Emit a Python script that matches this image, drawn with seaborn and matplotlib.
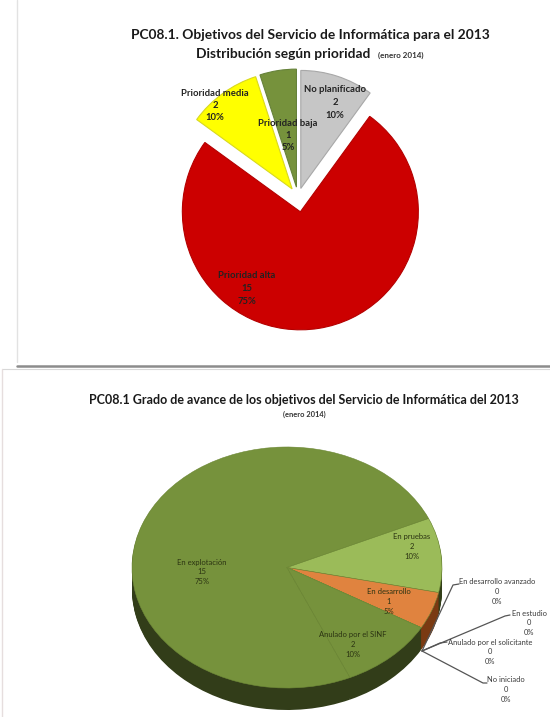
#!/usr/bin/env python
# coding: utf-8

import numpy as np
import matplotlib.pyplot as plt
import seaborn as sns

# Chart 1: priority
prio_names = ['No planificado', 'Prioridad alta', 'Prioridad media', 'Prioridad baja']
prio_values = [2, 15, 2, 1]
prio_pcts = ['10%', '75%', '10%', '5%']
prio_colors = ['#c6c6c6', '#cc0000', '#ffff00', '#76923c']
prio_explode = [9, 15, 10, 10]

# Chart 2: progress
prog_names = ['En explotación', 'En pruebas', 'En desarrollo', 'En desarrollo avanzado',
              'En estudio', 'Anulado por el solicitante', 'No iniciado', 'Anulado por el SINF']
prog_values = [15, 2, 1, 0, 0, 0, 0, 2]
prog_pcts = ['75%', '10%', '5%', '0%', '0%', '0%', '0%', '10%']
prog_colors = ['#76923c', '#9bbb59', '#e0833f', '#4f81bd', '#8064a2', '#4bacc6', '#f79646', '#76923c']

W, H = 550, 717
FONT = ['Lato', 'DejaVu Sans']

sns.set_theme(style='white')
plt.rcParams['font.family'] = FONT

fig = plt.figure(figsize=(W / 100, H / 100), dpi=100, facecolor='white')
ax = fig.add_axes([0, 0, 1, 1])


def py(y):
    return H - y


def label(a, x, y, lines, size=6.6, color='#222222', gap=12.5, weight='normal'):
    for i, line in enumerate(lines):
        a.text(x, py(y + i * gap), line, ha='center', va='center',
               fontsize=size, color=color, fontweight=weight, zorder=10)


# top pie, drawn in pixel space
wedges, _ = ax.pie(prio_values, colors=prio_colors, explode=prio_explode, startangle=90,
                   counterclock=False, radius=118, center=(298, py(197)),
                   wedgeprops=dict(linewidth=0.8, edgecolor='#a8a8a8'))
ax.set_aspect('auto')
ax.set_xlim(0, W)
ax.set_ylim(0, H)
ax.axis('off')
wedges[1].set_edgecolor('#b40000')
wedges[2].set_edgecolor('#d8d820')
wedges[3].set_edgecolor('#66823a')

# page frames
ax.plot([17, 17], [py(0), py(362)], color='#e2e2e2', lw=1)
ax.plot([17, W], [py(366), py(366)], color='#8c8c8c', lw=1.8)
ax.plot([2, W], [py(369), py(369)], color='#d8d8d8', lw=0.8)
ax.plot([2, 2], [py(369), py(717)], color='#e6dede', lw=1)

# titles
ax.text(310, py(35), 'PC08.1. Objetivos del Servicio de Informática para el 2013',
        ha='center', va='center', fontsize=9.9, fontweight='bold', color='#1a1a1a')
ax.text(283, py(54), 'Distribución según prioridad', ha='center', va='center',
        fontsize=9.9, fontweight='bold', color='#1a1a1a')
ax.text(401, py(55), '(enero 2014)', ha='center', va='center',
        fontsize=5.8, fontweight='bold', color='#333333')
ax.text(304, py(400), 'PC08.1 Grado de avance de los objetivos del Servicio de Informática del 2013',
        ha='center', va='center', fontsize=9, fontweight='bold', color='#1a1a1a')
ax.text(304, py(414), '(enero 2014)', ha='center', va='center',
        fontsize=5.4, fontweight='bold', color='#333333')

# bottom pie: flat axes squeezed into an ellipse, side wall from stacked copies
px0, px1, ptop, pbot = 132, 442, 447, 688
ax2 = fig.add_axes([px0 / W, 1 - pbot / H, (px1 - px0) / W, (pbot - ptop) / H])
ax2.patch.set_alpha(0)
dark = [sns.set_hls_values(c, l=0.17) for c in prog_colors]
dark[2] = '#7a3a12'
depth = 22 / ((pbot - ptop) / 2)
for d in np.linspace(depth, 0.005, 24):
    side, _ = ax2.pie(prog_values, colors=dark, startangle=-66, counterclock=False,
                      radius=1, center=(0, -d), wedgeprops=dict(linewidth=0.4, edgecolor='none'))
    for w in side:
        w.set_clip_on(False)
top, _ = ax2.pie(prog_values, colors=prog_colors, startangle=-66, counterclock=False,
                 radius=1, center=(0, 0), wedgeprops=dict(linewidth=0.4, edgecolor='#6f8a38'))
for w in top:
    w.set_clip_on(False)
ax2.set_aspect('auto')
ax2.set_xlim(-1, 1)
ax2.set_ylim(-1, 1)
ax2.axis('off')

# overlay axes for every label, so nothing ends up under the pies
ax3 = fig.add_axes([0, 0, 1, 1])
ax3.set_xlim(0, W)
ax3.set_ylim(0, H)
ax3.axis('off')
ax3.patch.set_alpha(0)

prio_pos = [(335, 90), (247, 276), (215, 93), (288, 123)]
for name, val, pct, (x, y) in zip(prio_names, prio_values, prio_pcts, prio_pos):
    label(ax3, x, y, [name, str(val), pct], size=6.8, weight='bold')

inside_pos = {0: (202, 562), 1: (412, 537), 2: (389, 592), 7: (353, 635)}
for i, (x, y) in inside_pos.items():
    label(ax3, x, y, [prog_names[i], str(prog_values[i]), prog_pcts[i]], size=5.5,
          color='#2b3312', gap=9.6)

# leader labels for empty categories
leader_pos = {3: ((453, 585), (459, 584), (497, 582)),
              4: ((505, 616), (510, 615), (529, 613)),
              5: ((440, 643), (447, 642), (490, 642)),
              6: ((483, 683), (487, 683), (506, 680))}
for i, (bend, end, (tx, ty)) in leader_pos.items():
    ax3.plot([422, bend[0], end[0]], [py(651), py(bend[1]), py(end[1])],
             color='#555555', lw=0.9)
    label(ax3, tx, ty, [prog_names[i], str(prog_values[i]), prog_pcts[i]], size=5.4,
          color='#3a3a3a', gap=9.6)

fig.savefig('out.png', dpi=100, facecolor='white')
